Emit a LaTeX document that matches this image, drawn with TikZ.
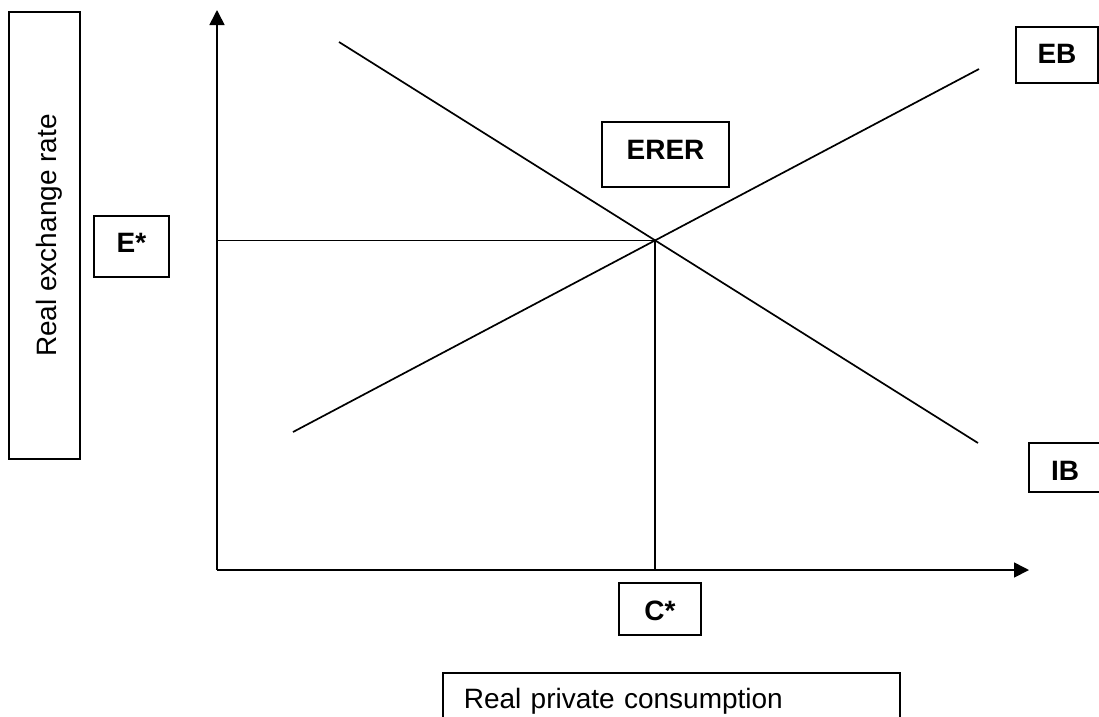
\documentclass[tikz,border=0pt]{standalone}
\usepackage{fontspec}
\setmainfont{Liberation Sans}
\usetikzlibrary{arrows.meta}
\tikzset{
  ln/.style={line width=1.7pt, line cap=butt},
  ax/.style={ln, -{Triangle[length=15pt,width=15pt]}},
  box/.style={draw, line width=1.6pt, rectangle, inner sep=0pt,
    font=\fontsize{28}{34}\selectfont},
  blbl/.style={box, font=\fontsize{28}{34}\selectfont\bfseries}
}
\begin{document}
\begin{tikzpicture}[x=1pt,y=-1pt]
\useasboundingbox (0,0) rectangle (1099,716);
% axes
\coordinate (O) at (217,570);
\coordinate (ytop) at (217,10);
\coordinate (xend) at (1029,570);
\draw[ax] (O) -- (ytop);
\draw[ax] (O) -- (xend);
% curves
\coordinate (eb1) at (293,432);
\coordinate (eb2) at (979,69);
\coordinate (ib1) at (339,42);
\coordinate (ib2) at (978,443);
\draw[ln] (eb1) -- (eb2);
\draw[ln] (ib1) -- (ib2);
\coordinate (X) at (intersection of eb1--eb2 and ib1--ib2);
\draw[ln] (X -| O) -- (X);
\draw[ln] (X) -- (X |- O);
% labels
\node[box, rotate=90, minimum width=447pt, minimum height=71pt,
      text height=30pt, text depth=6pt] (rer) at (44.5,235.5) {Real exchange rate};
\node[blbl, minimum width=75pt, minimum height=61pt,
      text height=21pt, text depth=10pt] (estar) at (131.5,246.5) {E*};
\node[blbl, minimum width=127pt, minimum height=65pt,
      text height=21pt, text depth=12pt] (erer) at (665.5,154.5) {ERER};
\node[blbl, minimum width=82pt, minimum height=56pt,
      text height=21pt, text depth=5pt] (eb) at (1057,55) {EB};
\node[blbl, minimum width=72pt, minimum height=49pt,
      text height=30pt, text depth=5pt] (ib) at (1065,467.5) {IB};
\node[blbl, minimum width=82pt, minimum height=52pt,
      text height=30pt, text depth=8pt] (cstar) at (660,609) {C*};
\node[box, anchor=north west, align=left, text width=415pt,
      inner xsep=21pt, inner ysep=15pt, text height=21pt, text depth=6pt]
      (rpc) at (442,672) {Real private consumption};
\end{tikzpicture}
\end{document}
